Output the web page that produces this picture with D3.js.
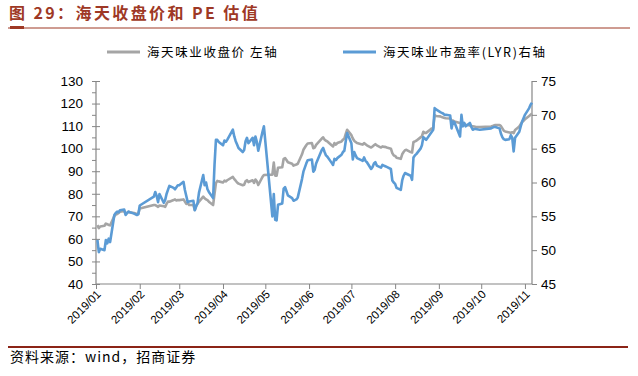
<!DOCTYPE html>
<html lang="zh">
<head>
<meta charset="UTF-8"/>
<title>海天收盘价和 PE 估值</title>
<script src="https://d3js.org/d3.v7.min.js"></script>
<style>
	body { margin:0; background:#fff; }
	svg { display:block; }
	.cn { font-family:"Noto Sans CJK SC", "Noto Sans", sans-serif; }
	.num { font-family:"Liberation Sans", Arial, sans-serif; }
</style>
</head>
<body>
<script>

// trading dates and the two series
var dates = [
	"2019-01-02","2019-01-03","2019-01-04","2019-01-07","2019-01-08","2019-01-09","2019-01-10","2019-01-11",
	"2019-01-14","2019-01-15","2019-01-16","2019-01-17","2019-01-18","2019-01-21","2019-01-22","2019-01-23",
	"2019-01-24","2019-01-25","2019-01-28","2019-01-29","2019-01-30","2019-01-31","2019-02-01",
	"2019-02-11","2019-02-12","2019-02-13","2019-02-14","2019-02-15","2019-02-18","2019-02-19","2019-02-20",
	"2019-02-21","2019-02-22","2019-02-25","2019-02-26","2019-02-27","2019-02-28",
	"2019-03-01","2019-03-04","2019-03-05","2019-03-06","2019-03-07","2019-03-08","2019-03-11","2019-03-12",
	"2019-03-13","2019-03-14","2019-03-15","2019-03-18","2019-03-19","2019-03-20","2019-03-21","2019-03-22",
	"2019-03-25","2019-03-26","2019-03-27","2019-03-28","2019-03-29",
	"2019-04-01","2019-04-02","2019-04-03","2019-04-04","2019-04-08","2019-04-09","2019-04-10","2019-04-11",
	"2019-04-12","2019-04-15","2019-04-16","2019-04-17","2019-04-18","2019-04-19","2019-04-22","2019-04-23",
	"2019-04-24","2019-04-25","2019-04-26","2019-04-29","2019-04-30",
	"2019-05-06","2019-05-07","2019-05-08","2019-05-09","2019-05-10","2019-05-13","2019-05-14","2019-05-15",
	"2019-05-16","2019-05-17","2019-05-20","2019-05-21","2019-05-22","2019-05-23","2019-05-24","2019-05-27",
	"2019-05-28","2019-05-29","2019-05-30","2019-05-31",
	"2019-06-03","2019-06-04","2019-06-05","2019-06-06","2019-06-10","2019-06-11","2019-06-12","2019-06-13",
	"2019-06-14","2019-06-17","2019-06-18","2019-06-19","2019-06-20","2019-06-21","2019-06-24","2019-06-25",
	"2019-06-26","2019-06-27","2019-06-28",
	"2019-07-01","2019-07-02","2019-07-03","2019-07-04","2019-07-05","2019-07-08","2019-07-09","2019-07-10",
	"2019-07-11","2019-07-12","2019-07-15","2019-07-16","2019-07-17","2019-07-18","2019-07-19","2019-07-22",
	"2019-07-23","2019-07-24","2019-07-25","2019-07-26","2019-07-29","2019-07-30","2019-07-31",
	"2019-08-01","2019-08-02","2019-08-05","2019-08-06","2019-08-07","2019-08-08","2019-08-09","2019-08-12",
	"2019-08-13","2019-08-14","2019-08-15","2019-08-16","2019-08-19","2019-08-20","2019-08-21","2019-08-22",
	"2019-08-23","2019-08-26","2019-08-27","2019-08-28","2019-08-29","2019-08-30",
	"2019-09-02","2019-09-03","2019-09-04","2019-09-05","2019-09-06","2019-09-09","2019-09-10","2019-09-11",
	"2019-09-12","2019-09-16","2019-09-17","2019-09-18","2019-09-19","2019-09-20","2019-09-23","2019-09-24",
	"2019-09-25","2019-09-26","2019-09-27","2019-09-30",
	"2019-10-08","2019-10-09","2019-10-10","2019-10-11","2019-10-14","2019-10-15","2019-10-16","2019-10-17",
	"2019-10-18","2019-10-21","2019-10-22","2019-10-23","2019-10-24","2019-10-25","2019-10-28","2019-10-29",
	"2019-10-30","2019-10-31","2019-11-01","2019-11-04","2019-11-05","2019-11-06"
];

// 海天味业收盘价 (left axis)
var price = [
	66.1,64.8,65.5,65.8,66.8,66.5,66.2,66.0,
	70.1,70.8,71.0,71.5,72.0,72.4,71.0,71.5,
	72.0,71.8,71.5,71.3,71.0,71.2,73.5,
	75.0,75.0,74.6,74.2,74.8,74.5,74.2,75.5,
	76.5,76.5,77.2,77.5,77.0,77.2,
	77.2,77.5,76.5,75.5,76.0,75.0,75.0,72.8,
	74.5,75.5,76.5,78.7,78.0,77.5,77.2,76.5,
	75.0,80.0,84.7,85.7,85.5,
	85.0,85.8,85.5,86.0,87.5,86.5,85.8,85.0,
	84.5,83.8,84.0,85.5,86.0,85.2,86.0,84.8,
	86.3,85.5,83.9,87.5,88.3,
	88.5,93.8,88.0,88.0,91.5,91.8,95.5,95.8,
	95.0,94.0,93.3,92.5,92.8,93.0,93.3,97.5,
	99.5,100.5,101.5,102.3,
	102.5,100.2,100.5,101.7,104.5,105.0,104.0,103.5,
	103.2,101.5,101.0,102.5,101.8,102.5,103.2,104.0,
	104.5,106.5,108.4,
	106.0,104.5,103.5,103.0,102.5,102.0,101.8,102.5,
	102.0,101.5,100.5,101.0,101.5,102.0,101.5,100.5,
	101.0,100.8,100.8,100.5,100.0,98.0,97.0,
	96.8,96.0,95.5,97.5,98.5,99.3,99.5,98.5,
	98.3,103.0,103.2,103.5,105.0,105.5,107.5,107.0,
	107.0,108.5,109.0,109.2,114.8,114.5,
	114.3,114.0,113.8,113.6,113.5,113.4,112.5,112.5,
	112.0,111.4,111.4,111.0,110.8,110.6,110.3,110.0,
	109.9,109.8,109.7,109.6,
	109.8,110.0,110.3,110.5,110.5,110.0,109.0,108.0,
	107.6,107.2,107.0,107.3,106.9,108.3,109.8,110.8,
	111.8,112.4,113.0,114.5,115.0,115.6
];

// 海天味业市盈率(LYR) (right axis)
var pe = [
	51.5,49.7,50.2,50.0,51.5,51.0,51.7,51.2,
	55.2,55.5,55.7,55.6,55.9,56.0,55.2,55.5,
	55.7,55.6,55.4,55.3,55.2,55.3,56.6,
	57.9,58.6,58.0,57.1,58.3,57.0,57.4,58.3,
	58.9,59.5,59.2,59.0,59.3,59.6,
	59.6,60.1,58.9,58.0,57.1,57.2,57.3,55.9,
	56.5,57.0,58.5,61.1,59.6,60.0,59.0,58.6,
	57.7,62.6,66.3,66.3,66.0,
	65.5,66.2,66.0,66.3,67.8,66.8,66.1,65.6,
	65.1,64.5,64.8,66.1,66.6,65.8,66.6,65.5,
	66.8,66.0,64.7,67.5,68.3,
	55.0,58.3,54.5,54.4,56.7,56.9,59.1,59.3,
	58.7,58.1,57.7,57.3,57.4,57.5,57.8,60.5,
	61.6,62.2,62.8,63.3,
	63.4,61.6,61.9,62.8,64.8,65.1,64.5,64.0,
	63.8,62.9,62.6,63.5,63.3,63.6,64.1,64.5,
	64.7,66.1,67.3,
	65.8,63.4,64.5,64.0,63.6,63.3,63.2,63.7,
	63.2,63.0,62.0,62.3,62.8,63.0,62.5,62.2,
	62.6,62.5,62.4,62.3,62.0,60.3,60.0,
	59.8,59.2,58.9,60.3,61.0,61.4,61.3,61.0,
	60.4,63.7,64.0,64.2,65.0,65.5,66.7,66.5,
	66.3,67.2,67.5,67.8,71.0,70.8,
	70.4,70.3,70.2,70.0,70.0,69.9,68.0,69.0,
	68.9,66.8,70.0,68.3,68.8,68.3,68.8,68.2,
	67.8,67.9,67.9,67.8,
	68.0,68.1,68.2,68.2,68.0,67.2,66.7,66.4,
	66.3,66.4,67.0,66.6,64.6,66.6,67.5,68.3,
	69.0,69.5,70.0,71.0,71.5,71.8
];

var leftTicks = [40,50,60,70,80,90,100,110,120,130];
var rightTicks = [45,50,55,60,65,70,75];
var monthTicks = ["2019-01-01","2019-02-01","2019-03-01","2019-04-01","2019-05-01","2019-06-01",
	"2019-07-01","2019-08-01","2019-09-01","2019-10-01","2019-11-01"];

var w = 638, h = 376;
var padL = 96, padR = 532, padT = 81, padB = 284;
var red = "#9E3825", axisColor = "#868686";
var gray = "#A5A5A5", blue = "#5B9BD5";

var parse = d3.timeParse("%Y-%m-%d");
var fmt = d3.timeFormat("%Y/%m");

var xScale = d3.scaleTime()
	.domain([parse("2019-01-01"), parse("2019-11-06")])
	.range([padL, padR]);
var yLeft = d3.scaleLinear().domain([40,130]).range([padB, padT]);
var yRight = d3.scaleLinear().domain([45,75]).range([padB, padT]);

var svg = d3.select("body").append("svg")
	.attr("width", w)
	.attr("height", h);

// title
svg.append("text")
	.attr("class","cn")
	.attr("x", 9).attr("y", 19)
	.attr("fill", red)
	.style("font-size","16px")
	.style("font-weight","bold")
	.style("letter-spacing","2.4px")
	.text("图 29：海天收盘价和 PE 估值");

svg.append("line")
	.attr("x1",8).attr("x2",630).attr("y1",28).attr("y2",28)
	.attr("stroke",red).attr("stroke-width",1);
svg.append("rect")
	.attr("x",10).attr("y",26).attr("width",14).attr("height",3)
	.attr("fill",red);

// axes
var gl = svg.append("g")
	.attr("class","num")
	.attr("transform","translate("+padL+",0)")
	.call(d3.axisLeft(yLeft).tickValues(leftTicks).tickSize(4).tickPadding(9));
gl.selectAll(".tick line").attr("x2",-4).attr("x1",4);

var minor = leftTicks.slice(0,-1).map(function(d){ return d+5; });
svg.append("g")
	.attr("transform","translate("+padL+",0)")
	.call(d3.axisLeft(yLeft).tickValues(minor).tickSize(4).tickFormat(""))
	.select(".domain").remove();

var gr = svg.append("g")
	.attr("class","num")
	.attr("transform","translate("+padR+",0)")
	.call(d3.axisRight(yRight).tickValues(rightTicks).tickSize(5).tickPadding(4));

var gx = svg.append("g")
	.attr("class","num")
	.attr("transform","translate(0,"+padB+")")
	.call(d3.axisBottom(xScale).tickValues(monthTicks.map(parse)).tickSize(5).tickFormat(fmt));

gx.selectAll(".tick text")
	.attr("text-anchor","end")
	.attr("dy",null)
	.attr("y",null)
	.attr("transform","translate(5,11) rotate(-45)")
	.style("font-size","11.5px");

[gl, gr].forEach(function(g){
	g.selectAll(".tick text").style("font-size","13.5px").attr("fill","#000");
});
svg.selectAll(".domain").attr("stroke",axisColor).attr("stroke-width",1.2);
svg.selectAll(".tick line").attr("stroke",axisColor);
gx.selectAll(".tick text").attr("fill","#000");
gx.select(".domain").attr("d","M"+padL+",0H"+padR);
gl.select(".domain").attr("d","M0,"+padT+"V"+padB);
gr.select(".domain").attr("d","M0,"+padT+"V"+padB);

// lines
var rows = dates.map(function(d,i){ return {date: parse(d), p: price[i], e: pe[i]}; });

var priceLine = d3.line()
	.x(function(d){ return xScale(d.date); })
	.y(function(d){ return yLeft(d.p); });
var peLine = d3.line()
	.x(function(d){ return xScale(d.date); })
	.y(function(d){ return yRight(d.e); });

svg.append("path")
	.datum(rows)
	.attr("fill","none")
	.attr("stroke",gray)
	.attr("stroke-width",2.6)
	.attr("stroke-linejoin","round")
	.attr("d",priceLine);

svg.append("path")
	.datum(rows)
	.attr("fill","none")
	.attr("stroke",blue)
	.attr("stroke-width",2.6)
	.attr("stroke-linejoin","round")
	.attr("d",peLine);

// legend
var legend = [
	{label:"海天味业收盘价 左轴", color:gray, x:107},
	{label:"海天味业市盈率(LYR)右轴", color:blue, x:343}
];
var lg = svg.selectAll(".legend")
	.data(legend)
	.enter()
	.append("g")
	.attr("class","legend")
	.attr("transform",function(d){ return "translate("+d.x+",52)"; });
lg.append("line")
	.attr("x1",0).attr("x2",33)
	.attr("stroke",function(d){ return d.color; })
	.attr("stroke-width",3);
lg.append("text")
	.attr("class","cn")
	.attr("x",40).attr("y",4.5)
	.style("font-size","12.5px")
	.style("letter-spacing","1.6px")
	.text(function(d){ return d.label; });

// source
svg.append("line")
	.attr("x1",8).attr("x2",628).attr("y1",347).attr("y2",347)
	.attr("stroke","#8B2417").attr("stroke-width",2);
svg.append("text")
	.attr("class","cn")
	.attr("x",10).attr("y",362)
	.style("font-size","14px")
	.style("letter-spacing","1px")
	.text("资料来源：wind，招商证券");

</script>
</body>
</html>
